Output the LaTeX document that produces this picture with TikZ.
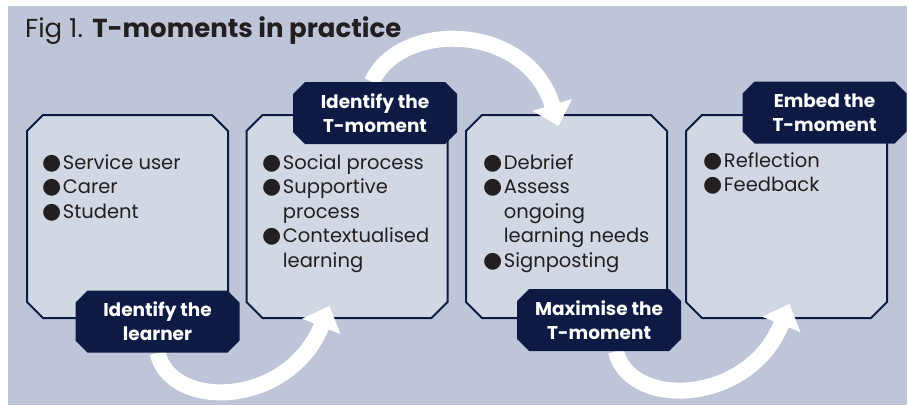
\documentclass[tikz,border=0pt]{standalone}
\usepackage{fontspec}
\setmainfont{Poppins}
\newfontfamily\dotfont{DejaVu Sans}
\usetikzlibrary{arrows.meta,shapes.misc,positioning}

\definecolor{panel}{HTML}{BEC5D8}
\definecolor{cardfill}{HTML}{D1D8E4}
\definecolor{navy}{HTML}{0C1A44}
\definecolor{ink}{HTML}{231F20}

\newcommand\bul{{\dotfont\fontsize{22}{24}\selectfont ●}\hspace{1.5pt}}
\newcommand\nobul{\hphantom{\bul}}

\pgfdeclarelayer{back}
\pgfdeclarelayer{flow}
\pgfsetlayers{back,flow,main}

\tikzset{
  cardline/.style={draw=navy, line width=2pt, fill=cardfill},
  card/.style={rectangle, inner sep=0pt, outer sep=0pt,
    minimum width=201pt, minimum height=203pt,
    append after command={\pgfextra{\let\cardnode\tikzlastnode
      \draw [cardline] ([xshift=16pt]\cardnode.north west) -- ([xshift=-16pt]\cardnode.north east)
        -- ([yshift=-16pt]\cardnode.north east) -- ([yshift=16pt]\cardnode.south east)
        -- ([xshift=-16pt]\cardnode.south east) -- ([xshift=16pt]\cardnode.south west)
        -- ([yshift=16pt]\cardnode.south west) -- ([yshift=-16pt]\cardnode.north west) -- cycle;}}},
  tag/.style={chamfered rectangle, chamfered rectangle xsep=6pt,
    chamfered rectangle ysep=6pt, fill=navy, text=white, align=center,
    font=\bfseries\fontsize{18.5}{24}\selectfont,
    minimum width=164pt, minimum height=62pt, inner sep=0pt},
  items/.style={anchor=north west, align=left, text=ink, inner sep=0pt,
    font=\fontsize{19.5}{24.5}\selectfont},
  flow/.style={draw=white, line width=16pt, -{Triangle[width=40pt,length=22pt]}}
}

\begin{document}
\begin{tikzpicture}[x=1pt,y=-1pt]
\useasboundingbox (0,0) rectangle (909,405);

\begin{pgfonlayer}{back}
%Panel
\fill [panel] (8,6) rectangle (907,405);

%Cards
\node [card] (learnerbox) at (127.5,216.5) {};
\node [card, right=18.5pt of learnerbox] (identifybox) {};
\node [card, right=18.5pt of identifybox] (maximisebox) {};
\node [card, right=19pt of maximisebox] (embedbox) {};

%Lists
\node [items] (learnerlist) at (42,154) {\bul Service user\\ \bul Carer\\ \bul Student};
\node [items] (identifylist) at (262,154) {\bul Social process\\ \bul Supportive\\ \nobul process\\
  \bul Contextualised\\ \nobul learning};
\node [items] (maximiselist) at (483,154) {\bul Debrief\\ \bul Assess\\ \nobul ongoing\\
  \nobul learning needs\\ \bul Signposting};
\node [items] (embedlist) at (703,152) {\bul Reflection\\ \bul Feedback};
\end{pgfonlayer}

%Title
\node [anchor=base west, text=ink, inner sep=0pt, font=\fontsize{26}{30}\selectfont] (title) at (25,37)
  {Fig 1. \textbf{T-moments in practice}};

%Tags
\node [tag] (learnertag) at (157.5,321.5) {Identify the\\learner};
\node [tag] (identifytag) at (375,113) {Identify the\\T-moment};
\node [tag] (maximisetag) at (599,320) {Maximise the\\T-moment};
\node [tag] (embedtag) at (824.5,112.5) {Embed the\\T-moment};

%Arrows between the steps
\begin{pgfonlayer}{flow}
\draw [flow] (learnertag.south) .. controls +(13,58) and +(-41,102) .. ([xshift=-17.5pt,yshift=12pt]identifybox.south);
\draw [flow] ([xshift=-3pt]identifytag.north) .. controls +(28,-62) and +(-31,-104) .. ([xshift=-8pt,yshift=-11pt]maximisebox.north);
\draw [flow] ([xshift=17pt]maximisetag.south) .. controls +(13,58) and +(-41,102) .. ([xshift=3pt,yshift=14pt]embedbox.south);
\end{pgfonlayer}

\end{tikzpicture}
\end{document}
